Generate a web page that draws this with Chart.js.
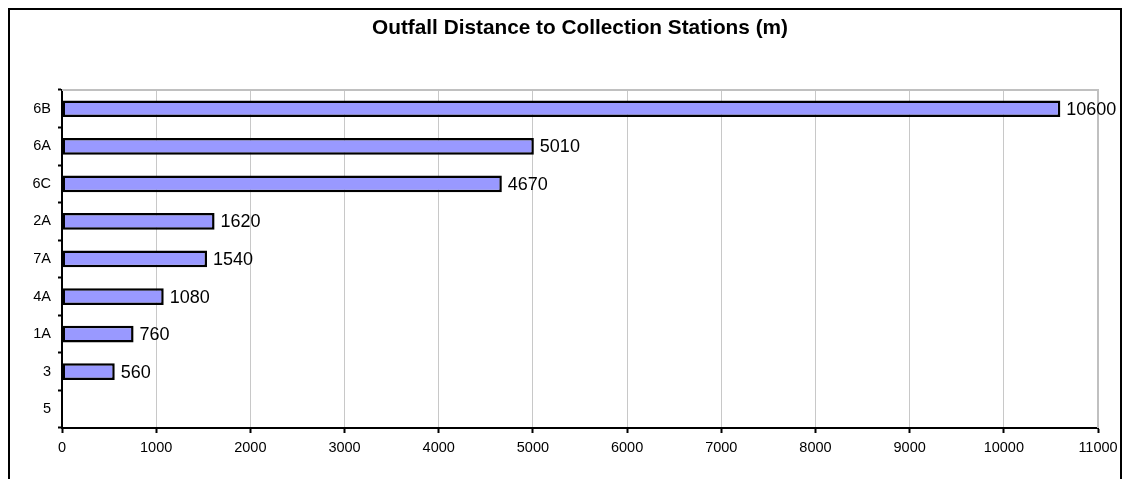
<!DOCTYPE html>
<html>
<head>
<meta charset="utf-8">
<script src="https://cdn.jsdelivr.net/npm/chart.js@4"></script>
<style>
  html, body { margin: 0; padding: 0; background: #ffffff; }
  #wrap { width: 1125px; height: 479px; position: relative; }
</style>
</head>
<body>
<div id="wrap"><canvas id="c" width="1125" height="479"></canvas></div>
<script>
// Stations, listed top to bottom
const stations = ['6B', '6A', '6C', '2A', '7A', '4A', '1A', '3', '5'];
// Outfall distance per station, metres (station 5 has no value)
const distances = [10600, 5010, 4670, 1620, 1540, 1080, 760, 560, null];
const axisMin = 0;
const axisMax = 11000;
const axisStep = 1000;
const titleText = 'Outfall Distance to Collection Stations (m)';

const FONT = '"Liberation Sans", Arial, sans-serif';

// Outer chart frame plus gray top/right plot-area edges
const framePlugin = {
  id: 'frame',
  beforeDraw(chart) {
    const ctx = chart.ctx;
    ctx.save();
    ctx.fillStyle = '#ffffff';
    ctx.fillRect(0, 0, chart.width, chart.height);
    ctx.strokeStyle = '#000000';
    ctx.lineWidth = 2;
    ctx.strokeRect(9, 9, 1112, 520);
    ctx.restore();
  },
  beforeDatasetsDraw(chart) {
    const a = chart.chartArea;
    const ctx = chart.ctx;
    ctx.save();
    ctx.strokeStyle = '#c0c0c0';
    ctx.lineWidth = 2;
    ctx.beginPath();
    ctx.moveTo(a.left, a.top);
    ctx.lineTo(a.right, a.top);
    ctx.lineTo(a.right, a.bottom);
    ctx.stroke();
    ctx.restore();
  }
};

// Value labels at the end of each bar
const valueLabels = {
  id: 'valueLabels',
  afterDatasetsDraw(chart) {
    const ctx = chart.ctx;
    const meta = chart.getDatasetMeta(0);
    const data = chart.data.datasets[0].data;
    ctx.save();
    ctx.font = '18px ' + FONT;
    ctx.fillStyle = '#000000';
    ctx.textAlign = 'left';
    ctx.textBaseline = 'middle';
    meta.data.forEach((bar, i) => {
      const v = data[i];
      if (v === null || v === undefined) return;
      ctx.fillText(String(v), bar.x + 6, bar.y + 1);
    });
    ctx.restore();
  }
};

new Chart(document.getElementById('c'), {
  type: 'bar',
  data: {
    labels: stations,
    datasets: [{
      data: distances,
      backgroundColor: '#9999ff',
      borderColor: '#000000',
      borderWidth: 2.5,
      borderSkipped: false,
      barPercentage: 0.445,
      categoryPercentage: 1.0
    }]
  },
  options: {
    indexAxis: 'y',
    responsive: false,
    animation: false,
    devicePixelRatio: 1,
    layout: { padding: { left: 0, right: 27, top: 0, bottom: 0 } },
    plugins: {
      legend: { display: false },
      tooltip: { enabled: false },
      title: {
        display: true,
        fullSize: false,
        text: titleText,
        color: '#000000',
        font: { family: FONT, size: 20.8, weight: 'bold', lineHeight: 1.2 },
        padding: { top: 16, bottom: 49 }
      }
    },
    scales: {
      x: {
        type: 'linear',
        min: axisMin,
        max: axisMax,
        afterFit(scale) { scale.height = 51; },
        ticks: {
          stepSize: axisStep,
          color: '#000000',
          font: { family: FONT, size: 14.5 },
          padding: 6,
          maxRotation: 0,
          autoSkip: false,
          callback: (value) => String(value)
        },
        grid: {
          color: '#c8c8c8',
          lineWidth: 1,
          tickColor: '#000000',
          tickLength: 5,
          tickWidth: 2
        },
        border: { color: '#000000', width: 2 }
      },
      y: {
        type: 'category',
        afterFit(scale) { scale.width = 62; },
        ticks: {
          color: '#000000',
          font: { family: FONT, size: 14.5 },
          padding: 7
        },
        grid: {
          offset: true,
          drawOnChartArea: false,
          drawTicks: true,
          tickLength: 4,
          tickColor: '#000000',
          tickWidth: 2
        },
        border: { color: '#000000', width: 2 }
      }
    }
  },
  plugins: [framePlugin, valueLabels]
});
</script>
</body>
</html>
